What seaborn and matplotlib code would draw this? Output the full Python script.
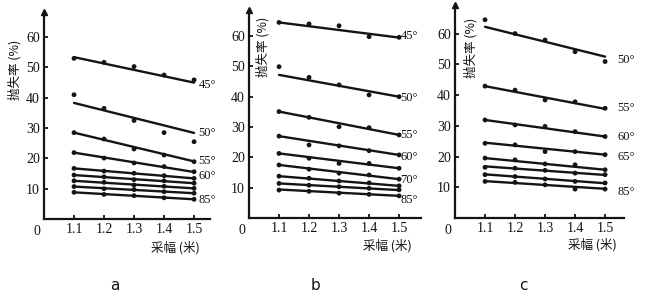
import matplotlib
matplotlib.use("Agg")
from matplotlib import pyplot as plt
import pandas as pd
import seaborn as sns

# cutting width (m) on the x axis
widths = [1.1, 1.2, 1.3, 1.4, 1.5]
y_ticks = [10, 20, 30, 40, 50, 60]

# panel a
angles_a = [45, 50, 55, 60, 65, 70, 75, 80, 85]
points_a = [
    [53.0, 51.7, 50.3, 47.5, 45.9],
    [41.0, 36.5, 32.5, 28.5, 25.5],
    [28.5, 26.4, 23.1, 21.1, 18.9],
    [21.9, 20.1, 18.5, 17.3, 15.6],
    [16.7, 15.8, 15.1, 14.3, 13.4],
    [14.5, 13.9, 13.0, 12.6, 11.8],
    [12.6, 12.1, 11.2, 10.8, 10.1],
    [10.7, 10.0, 9.7, 9.0, 8.5],
    [8.8, 8.1, 7.7, 7.0, 6.5],
]
start_a = [53.4, 38.3, 28.5, 21.9, 16.7, 14.5, 12.6, 10.7, 8.8]
end_a = [45.0, 28.4, 19.0, 15.5, 13.4, 11.8, 10.1, 8.5, 6.5]
labels_a = ["45°", "50°", "55°", "60°", "", "", "", "", "85°"]

# panel b
angles_b = [45, 50, 55, 60, 65, 70, 75, 80, 85]
points_b = [
    [64.5, 64.0, 63.4, 59.8, 59.6],
    [49.9, 46.4, 43.9, 40.6, 40.0],
    [35.1, 33.2, 30.1, 29.8, 27.4],
    [27.0, 24.1, 23.8, 22.2, 20.8],
    [21.3, 19.7, 18.0, 18.0, 16.4],
    [17.5, 16.1, 14.8, 14.2, 12.8],
    [13.8, 13.1, 12.2, 11.6, 10.6],
    [11.4, 10.8, 10.3, 9.8, 9.3],
    [9.2, 8.8, 8.2, 7.8, 7.3],
]
start_b = [64.5, 47.2, 35.1, 27.0, 21.3, 17.5, 13.8, 11.4, 9.4]
end_b = [59.5, 40.0, 27.4, 20.8, 16.4, 12.8, 10.6, 9.2, 7.3]
labels_b = ["45°", "50°", "55°", "60°", "", "70°", "", "", "85°"]

# panel c
angles_c = [50, 55, 60, 65, 70, 75, 80, 85]
points_c = [
    [64.5, 60.0, 57.9, 54.1, 50.9],
    [42.9, 41.6, 38.4, 37.8, 35.7],
    [31.9, 30.3, 29.8, 28.1, 26.5],
    [24.3, 23.8, 21.6, 21.6, 20.6],
    [19.5, 18.9, 17.6, 17.3, 15.7],
    [16.5, 16.2, 15.5, 14.6, 14.1],
    [14.1, 13.5, 12.7, 11.9, 11.4],
    [11.9, 11.6, 10.8, 9.4, 9.4],
]
start_c = [62.2, 42.9, 31.9, 24.5, 19.5, 16.8, 14.2, 12.0]
end_c = [52.5, 35.5, 26.5, 20.6, 15.7, 14.0, 11.3, 9.5]
labels_c = ["50°", "55°", "60°", "65°", "", "", "", "85°"]

sns.set_style("ticks")
plt.rcParams["font.family"] = ["Liberation Serif", "Noto Sans CJK SC"]
cjk = ["Noto Sans CJK SC", "DejaVu Sans"]
ink = "#141414"

fig = plt.figure(figsize=(6.5, 2.93), dpi=100)


def px_axes(left, right, bottom, top):
    # axes box given in pixel coordinates of the 650x293 picture
    return fig.add_axes([left / 650, 1 - bottom / 293,
                         (right - left) / 650, (bottom - top) / 293])


def draw_panel(ax, angles, points, starts, ends, labels, label_x, label_dy,
               xmax, ymax):
    pts = pd.DataFrame(
        [(a, w, v) for a, row in zip(angles, points) for w, v in zip(widths, row)],
        columns=["angle", "width", "loss"],
    )
    fits = pd.DataFrame(
        [(a, widths[0], s) for a, s in zip(angles, starts)]
        + [(a, widths[-1], e) for a, e in zip(angles, ends)],
        columns=["angle", "width", "loss"],
    )
    sns.lineplot(data=fits, x="width", y="loss", units="angle", estimator=None,
                 color=ink, lw=1.7, legend=False, ax=ax)
    sns.scatterplot(data=pts, x="width", y="loss", color=ink, s=12,
                    edgecolor="none", legend=False, ax=ax)
    for lab, e, dy in zip(labels, ends, label_dy):
        if lab:
            ax.text(label_x, e + dy, lab, ha="left", va="center",
                    fontsize=9, color=ink)
    ax.set_xlim(1.0, xmax)
    ax.set_ylim(0, ymax)
    ax.set_xticks(widths)
    ax.set_xticklabels([str(w) for w in widths])
    ax.set_yticks(y_ticks)
    ax.set_xlabel("")
    ax.set_ylabel("")
    sns.despine(ax=ax)
    for side in ["left", "bottom"]:
        ax.spines[side].set_linewidth(1.6)
        ax.spines[side].set_color(ink)
    ax.tick_params(direction="in", length=3, width=1.3, labelsize=10,
                   colors=ink, pad=3)
    ax.text(-0.04, -0.03, "0", transform=ax.transAxes, ha="center",
            va="top", fontsize=10, color=ink)
    ax.plot(0, 1, marker="^", color=ink, ms=4, transform=ax.transAxes,
            clip_on=False)
    ax.patch.set_alpha(0)


ax_a = px_axes(44, 210, 219, 12)
draw_panel(ax_a, angles_a, points_a, start_a, end_a, labels_a, 1.515,
           [-0.8, 0.0, 0.2, -1.2, 0, 0, 0, 0, -0.3], 1.553, 68.3)

ax_b = px_axes(249, 421, 218, 10)
draw_panel(ax_b, angles_b, points_b, start_b, end_b, labels_b, 1.505,
           [0.4, -0.4, 0.0, -0.8, 0, -0.3, 0, 0, -1.3], 1.573, 68.6)

ax_c = px_axes(455, 624, 218, 5)
draw_panel(ax_c, angles_c, points_c, start_c, end_c, labels_c, 1.54,
           [-1.1, 0.3, -0.1, -0.7, 0, 0, 0, -1.0], 1.563, 69.3)

# axis titles
for x, y in [(15, 70), (263, 47), (471, 48)]:
    fig.text(x / 650, 1 - y / 293, "抛失率 (%)", rotation=90, ha="center",
             va="center", fontsize=9, family=cjk, color=ink)
for x, y in [(175, 248), (387, 246), (592, 245)]:
    fig.text(x / 650, 1 - y / 293, "采幅 (米)", ha="center", va="center",
             fontsize=9, family=cjk, color=ink)

# panel letters
for x, lab in [(115, "a"), (315, "b"), (523, "c")]:
    fig.text(x / 650, 1 - 285 / 293, lab, ha="center", va="center",
             fontsize=11, family=["DejaVu Sans"], color=ink)

fig.savefig("out.png", dpi=100)
